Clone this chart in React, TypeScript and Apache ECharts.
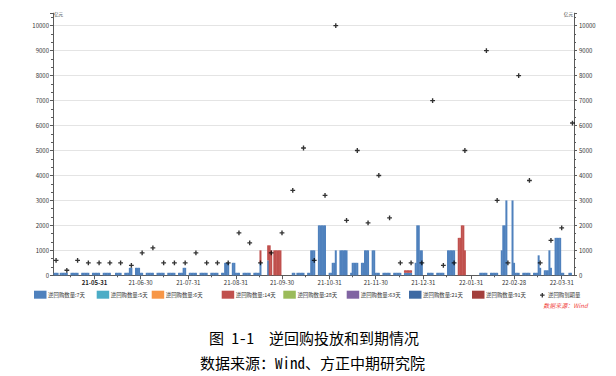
import React, { useEffect, useRef } from "react";
import * as echarts from "echarts";

// ---------- axis range (calendar days) ----------
const axisStart = "2021-05-05";
const axisEnd = "2022-04-09";
const monthTickDates = ["2021-06-01", "2021-07-01", "2021-08-01", "2021-09-01", "2021-10-01", "2021-11-01", "2021-12-01", "2022-01-01", "2022-02-01", "2022-03-01", "2022-04-01"];
const monthTickLabels = ["21-05-31", "21-06-30", "21-07-31", "21-08-31", "21-09-30", "21-10-31", "21-11-30", "21-12-31", "22-01-31", "22-02-28", "22-03-31"];

// ---------- series ----------
const barNames = ["逆回购数量:7天", "逆回购数量:5天", "逆回购数量:6天", "逆回购数量:14天", "逆回购数量:28天", "逆回购数量:63天", "逆回购数量:21天", "逆回购数量:91天"];
const barColors = ["#4F81BD", "#4BACC6", "#F79646", "#C0504D", "#9BBB59", "#8064A2", "#3E6AA3", "#A33F3C"];
const maturityName = "逆回购到期量";

// 逆回购数量:7天 (亿元)
const repo7d: [string, number][] = [
  ["2021-05-06", 100], ["2021-05-07", 100], ["2021-05-08", 100], ["2021-05-10", 100], ["2021-05-11", 100], ["2021-05-12", 100], ["2021-05-13", 100], ["2021-05-14", 100],
  ["2021-05-17", 100], ["2021-05-18", 100], ["2021-05-19", 100], ["2021-05-20", 100], ["2021-05-21", 100], ["2021-05-24", 100], ["2021-05-25", 100], ["2021-05-26", 100],
  ["2021-05-27", 100], ["2021-05-28", 100], ["2021-05-31", 100],
  ["2021-06-01", 100], ["2021-06-02", 100], ["2021-06-03", 100], ["2021-06-04", 100], ["2021-06-07", 100], ["2021-06-08", 100], ["2021-06-09", 100], ["2021-06-10", 100],
  ["2021-06-11", 100], ["2021-06-15", 100], ["2021-06-16", 100], ["2021-06-17", 100], ["2021-06-18", 100], ["2021-06-21", 100], ["2021-06-22", 100], ["2021-06-23", 100],
  ["2021-06-24", 300], ["2021-06-25", 300], ["2021-06-28", 300], ["2021-06-29", 300], ["2021-06-30", 300],
  ["2021-07-01", 100], ["2021-07-02", 100], ["2021-07-05", 100], ["2021-07-06", 100], ["2021-07-07", 100], ["2021-07-08", 100], ["2021-07-09", 100], ["2021-07-12", 100],
  ["2021-07-13", 100], ["2021-07-14", 100], ["2021-07-15", 100], ["2021-07-16", 100], ["2021-07-19", 100], ["2021-07-20", 100], ["2021-07-21", 100], ["2021-07-22", 100],
  ["2021-07-23", 100], ["2021-07-26", 100], ["2021-07-27", 100], ["2021-07-28", 100], ["2021-07-29", 300], ["2021-07-30", 300],
  ["2021-08-02", 100], ["2021-08-03", 100], ["2021-08-04", 100], ["2021-08-05", 100], ["2021-08-06", 100], ["2021-08-09", 100], ["2021-08-10", 100], ["2021-08-11", 100],
  ["2021-08-12", 100], ["2021-08-13", 100], ["2021-08-16", 100], ["2021-08-17", 100], ["2021-08-18", 100], ["2021-08-19", 100], ["2021-08-20", 100], ["2021-08-23", 100],
  ["2021-08-24", 100], ["2021-08-25", 500], ["2021-08-26", 500], ["2021-08-27", 500], ["2021-08-30", 500], ["2021-08-31", 500],
  ["2021-09-01", 100], ["2021-09-02", 100], ["2021-09-03", 100], ["2021-09-06", 100], ["2021-09-07", 100], ["2021-09-08", 100], ["2021-09-09", 100], ["2021-09-10", 100],
  ["2021-09-13", 100], ["2021-09-14", 100], ["2021-09-15", 100], ["2021-09-16", 100], ["2021-09-17", 500], ["2021-09-22", 600],
  ["2021-10-08", 100], ["2021-10-09", 100], ["2021-10-11", 100], ["2021-10-12", 100], ["2021-10-13", 100], ["2021-10-14", 100], ["2021-10-15", 100], ["2021-10-18", 100],
  ["2021-10-19", 100], ["2021-10-20", 1000], ["2021-10-21", 1000], ["2021-10-22", 1000], ["2021-10-25", 2000], ["2021-10-26", 2000], ["2021-10-27", 2000], ["2021-10-28", 2000],
  ["2021-10-29", 2000],
  ["2021-11-01", 100], ["2021-11-02", 100], ["2021-11-03", 500], ["2021-11-04", 500], ["2021-11-05", 1000], ["2021-11-08", 1000], ["2021-11-09", 1000], ["2021-11-10", 1000],
  ["2021-11-11", 1000], ["2021-11-12", 1000], ["2021-11-15", 100], ["2021-11-16", 500], ["2021-11-17", 500], ["2021-11-18", 500], ["2021-11-19", 500], ["2021-11-22", 500],
  ["2021-11-23", 500], ["2021-11-24", 1000], ["2021-11-25", 1000], ["2021-11-26", 1000], ["2021-11-29", 1000], ["2021-11-30", 1000],
  ["2021-12-01", 100], ["2021-12-02", 100], ["2021-12-03", 100], ["2021-12-06", 100], ["2021-12-07", 100], ["2021-12-08", 100], ["2021-12-09", 100], ["2021-12-10", 100],
  ["2021-12-13", 100], ["2021-12-14", 100], ["2021-12-15", 100], ["2021-12-16", 100], ["2021-12-17", 100], ["2021-12-20", 100], ["2021-12-21", 100], ["2021-12-22", 100],
  ["2021-12-23", 100], ["2021-12-24", 100], ["2021-12-27", 500], ["2021-12-28", 2000], ["2021-12-29", 2000], ["2021-12-30", 1000], ["2021-12-31", 1000],
  ["2022-01-04", 100], ["2022-01-05", 100], ["2022-01-06", 100], ["2022-01-07", 100], ["2022-01-10", 100], ["2022-01-11", 100], ["2022-01-12", 100], ["2022-01-13", 100],
  ["2022-01-14", 100], ["2022-01-17", 1000], ["2022-01-18", 1000], ["2022-01-19", 1000], ["2022-01-20", 1000], ["2022-01-21", 1000],
  ["2022-02-07", 100], ["2022-02-08", 100], ["2022-02-09", 100], ["2022-02-10", 100], ["2022-02-11", 100], ["2022-02-14", 100], ["2022-02-15", 100], ["2022-02-16", 100],
  ["2022-02-17", 100], ["2022-02-18", 100], ["2022-02-21", 1000], ["2022-02-22", 2000], ["2022-02-23", 2000], ["2022-02-24", 3000], ["2022-02-28", 3000],
  ["2022-03-01", 500], ["2022-03-02", 100], ["2022-03-03", 100], ["2022-03-04", 100], ["2022-03-07", 100], ["2022-03-08", 100], ["2022-03-09", 100], ["2022-03-10", 100],
  ["2022-03-11", 100], ["2022-03-14", 100], ["2022-03-15", 100], ["2022-03-16", 100], ["2022-03-17", 800], ["2022-03-18", 300], ["2022-03-21", 200], ["2022-03-22", 200],
  ["2022-03-23", 200], ["2022-03-24", 1000], ["2022-03-25", 300], ["2022-03-28", 1500], ["2022-03-29", 1500], ["2022-03-30", 1500], ["2022-03-31", 1500],
  ["2022-04-01", 100], ["2022-04-02", 100], ["2022-04-06", 100], ["2022-04-07", 100],
];

// 逆回购数量:14天 (亿元)
const repo14d: [string, number][] = [
  ["2021-09-17", 500], ["2021-09-22", 600], ["2021-09-23", 1200], ["2021-09-24", 1000], ["2021-09-26", 1000], ["2021-09-27", 1000], ["2021-09-28", 1000],
  ["2021-09-29", 1000], ["2021-09-30", 1000],
  ["2021-12-20", 100], ["2021-12-21", 100], ["2021-12-22", 100], ["2021-12-23", 100], ["2021-12-24", 100],
  ["2022-01-24", 1500], ["2022-01-25", 1500], ["2022-01-26", 2000], ["2022-01-27", 2000], ["2022-01-28", 1000],
];
const repo5d: [string, number][] = [];
const repo6d: [string, number][] = [];
const repo28d: [string, number][] = [];
const repo63d: [string, number][] = [];
const repo21d: [string, number][] = [];
const repo91d: [string, number][] = [];

// 逆回购到期量 (weekly, 亿元)
const maturityWeekly: [string, number][] = [
  ["2021-05-07", 600], ["2021-05-14", 200], ["2021-05-21", 600], ["2021-05-28", 500], ["2021-06-04", 500], ["2021-06-11", 500], ["2021-06-18", 500],
  ["2021-06-25", 400], ["2021-07-02", 900], ["2021-07-09", 1100], ["2021-07-16", 500], ["2021-07-23", 500], ["2021-07-30", 500], ["2021-08-06", 900],
  ["2021-08-13", 500], ["2021-08-20", 500], ["2021-08-27", 500], ["2021-09-03", 1700], ["2021-09-10", 1300], ["2021-09-17", 500], ["2021-09-24", 900],
  ["2021-10-01", 1700], ["2021-10-08", 3400], ["2021-10-15", 5100], ["2021-10-22", 600], ["2021-10-29", 3200], ["2021-11-05", 10000], ["2021-11-12", 2200],
  ["2021-11-19", 5000], ["2021-11-26", 2100], ["2021-12-03", 4000], ["2021-12-10", 2300], ["2021-12-17", 500], ["2021-12-24", 500], ["2021-12-31", 500],
  ["2022-01-07", 7000], ["2022-01-14", 400], ["2022-01-21", 500], ["2022-01-28", 5000], ["2022-02-11", 9000], ["2022-02-18", 3000], ["2022-02-25", 500],
  ["2022-03-04", 8000], ["2022-03-11", 3800], ["2022-03-18", 500], ["2022-03-25", 1400], ["2022-04-01", 1900], ["2022-04-08", 6100],
];

// ---------- helpers ----------
function buildDays(start: string, end: string): string[] {
  const out: string[] = [];
  const [ys, ms, ds] = start.split("-").map(Number);
  const [ye, me, de] = end.split("-").map(Number);
  let t = Date.UTC(ys, ms - 1, ds);
  const tEnd = Date.UTC(ye, me - 1, de);
  while (t <= tEnd) {
    out.push(new Date(t).toISOString().slice(0, 10));
    t += 86400000;
  }
  return out;
}
const categories = buildDays(axisStart, axisEnd);
const aligned = (pairs: [string, number][]) => {
  const m = new Map(pairs);
  return categories.map((d) => (m.has(d) ? m.get(d) : "-"));
};
const tickSet = new Set(monthTickDates);
const labelMap = new Map(monthTickDates.map((d, i) => [d, monthTickLabels[i]]));

const CROSS = "path://M2.5,0H4.5V2.5H7V4.5H4.5V7H2.5V4.5H0V2.5H2.5Z";
const AXIS_COLOR = "#5a5a5a";
const TEXT_COLOR = "#333";
const FONT = "'Noto Sans CJK SC', 'Noto Sans', sans-serif";
const CAPTION_FONT = "'Noto Sans Mono CJK SC', 'Noto Sans CJK SC', monospace";

export default function App() {
  const ref = useRef<HTMLDivElement>(null);
  useEffect(() => {
    if (!ref.current) return;
    const chart = echarts.init(ref.current, undefined, { renderer: "svg" });
    const barData = [repo7d, repo5d, repo6d, repo14d, repo28d, repo63d, repo21d, repo91d];
    const barSeries = barNames.map((name, i) => ({
      name,
      type: "bar",
      stack: "repo",
      barWidth: 2,
      xAxisIndex: 0,
      yAxisIndex: 0,
      itemStyle: { color: barColors[i] },
      data: aligned(barData[i]),
    }));
    const legendLefts = [34, 96.7, 151.7, 221.7, 283.3, 346.7, 409, 472];
    const legends: any[] = barNames.map((name, i) => ({
      data: [name],
      left: legendLefts[i],
      top: 290.7,
      padding: 0,
      itemWidth: 12.5,
      itemHeight: 8,
      icon: "rect",
      selectedMode: false,
      textStyle: { fontSize: 5.4, color: TEXT_COLOR, fontFamily: FONT, padding: [0, 0, 0, -3.4] },
    }));
    legends.push({
      data: [{ name: maturityName, icon: CROSS }],
      left: 540,
      top: 292.5,
      padding: 0,
      itemWidth: 4.6,
      itemHeight: 4.6,
      selectedMode: false,
      itemStyle: { color: "#000" },
      textStyle: { fontSize: 5.4, color: TEXT_COLOR, fontFamily: FONT, padding: [0, 0, 0, -1.6] },
    });

    const yCommon = {
      type: "value",
      min: 0,
      max: 10500,
      interval: 1000,
      name: "亿元",
      nameLocation: "end",
      nameGap: 1.5,
      axisLine: { show: true, lineStyle: { color: AXIS_COLOR, width: 1 } },
      axisTick: { show: true, length: 3, lineStyle: { color: AXIS_COLOR } },
      minorTick: { show: true, splitNumber: 3, length: 2, lineStyle: { color: AXIS_COLOR } },
      axisLabel: { fontSize: 6, color: TEXT_COLOR, fontFamily: FONT, showMaxLabel: false, formatter: (v: number) => String(v) },
    };

    chart.setOption({
      animation: false,
      textStyle: { fontFamily: FONT },
      title: [
        {
          text: "图 1-1  逆回购投放和到期情况",
          left: 314,
          top: 329.5,
          textAlign: "center",
          padding: 0,
          textStyle: { fontSize: 15, lineHeight: 15, fontWeight: "normal", color: "#000", fontFamily: CAPTION_FONT },
        },
        {
          text: "数据来源：Wind、方正中期研究院",
          left: 312.5,
          top: 354.5,
          textAlign: "center",
          padding: 0,
          textStyle: { fontSize: 15, lineHeight: 15, fontWeight: "normal", color: "#000", fontFamily: CAPTION_FONT },
        },
        {
          text: "数据来源：Wind",
          left: 543.3,
          top: 302,
          padding: 0,
          textStyle: { fontSize: 6, lineHeight: 6, fontWeight: "normal", fontStyle: "italic", color: "#f0413c", fontFamily: FONT },
        },
      ],
      legend: legends,
      grid: { left: 53, right: 42, top: 13.2, height: 262.1, containLabel: false },
      xAxis: [
        {
          type: "category",
          data: categories,
          boundaryGap: false,
          axisLine: { show: true, onZero: false, lineStyle: { color: AXIS_COLOR, width: 1 } },
          axisTick: { show: true, length: 4, interval: (_i: number, v: string) => tickSet.has(v), lineStyle: { color: AXIS_COLOR } },
          axisLabel: {
            interval: (_i: number, v: string) => tickSet.has(v),
            formatter: (v: string) => {
              const l = labelMap.get(v) || "";
              return v === monthTickDates[0] ? `{b|${l}}` : l;
            },
            rich: { b: { fontWeight: "bold", fontSize: 6, color: "#222", fontFamily: FONT } },
            fontSize: 6,
            color: TEXT_COLOR,
            margin: 4,
            fontFamily: FONT,
          },
          splitLine: { show: false },
        },
        {
          type: "category",
          data: categories,
          boundaryGap: false,
          position: "bottom",
          axisLine: { show: false, onZero: false },
          axisTick: { show: true, length: 2, interval: (_i: number, v: string) => v.endsWith("-16"), lineStyle: { color: AXIS_COLOR } },
          axisLabel: { show: false },
          splitLine: { show: false },
        },
      ],
      yAxis: [
        {
          ...yCommon,
          position: "left",
          nameTextStyle: { fontSize: 4.6, color: TEXT_COLOR, align: "left", verticalAlign: "top", padding: [0, 0, 0, 1] },
          axisLabel: { ...yCommon.axisLabel, margin: 4 },
          splitLine: { show: true, showMaxLine: false, lineStyle: { color: "#e4e4e4", width: 1 } },
        },
        {
          ...yCommon,
          position: "right",
          nameTextStyle: { fontSize: 4.6, color: TEXT_COLOR, align: "right", verticalAlign: "top", padding: [0, 1, 0, 0] },
          axisLabel: { ...yCommon.axisLabel, margin: 5 },
          splitLine: { show: false },
        },
      ],
      series: [
        ...barSeries,
        {
          name: maturityName,
          type: "scatter",
          xAxisIndex: 0,
          yAxisIndex: 1,
          symbol: CROSS,
          symbolSize: 4.8,
          itemStyle: { color: "#000" },
          z: 5,
          data: aligned(maturityWeekly),
        },
      ],
    } as any);
    return () => chart.dispose();
  }, []);
  return (
    <div
      ref={ref}
      style={{ position: "absolute", left: 0, top: 0, width: 616, height: 376, background: "#fff" }}
    />
  );
}
